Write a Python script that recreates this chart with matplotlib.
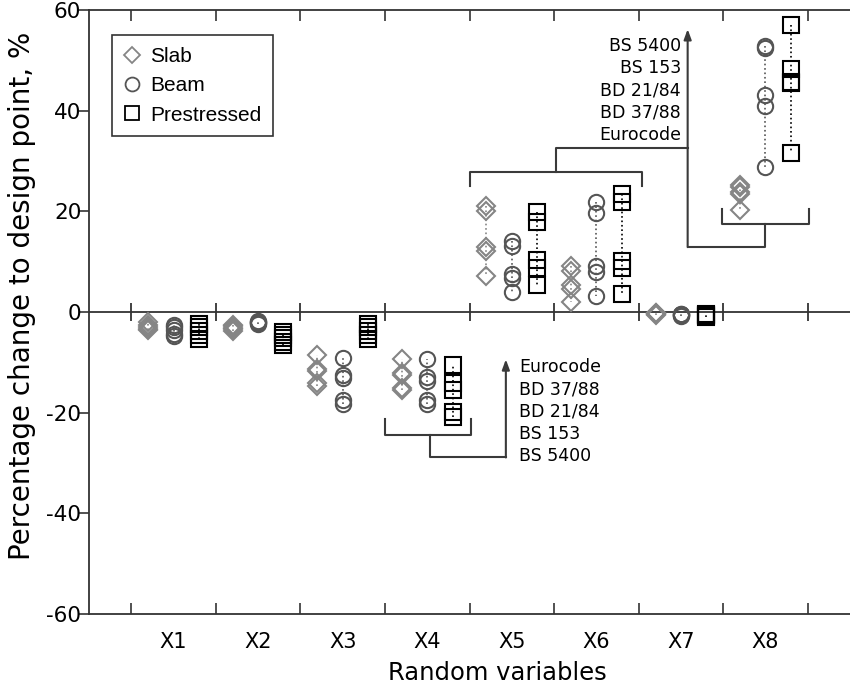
import numpy as np
import matplotlib
matplotlib.use("Agg")
import matplotlib.pyplot as plt
from matplotlib.lines import Line2D

plt.rcParams['axes.unicode_minus'] = False

variables = ['X1', 'X2', 'X3', 'X4', 'X5', 'X6', 'X7', 'X8']
codes = ['BS 5400', 'BS 153', 'BD 21/84', 'BD 37/88', 'Eurocode']

# one row per random variable, columns follow `codes`
slab = [[-3.6, -3.3, -3.0, -2.5, -2.0],
        [-3.7, -3.4, -3.1, -2.8, -2.6],
        [-14.7, -14.2, -11.7, -11.3, -8.6],
        [-15.5, -15.0, -12.6, -12.2, -9.3],
        [21.0, 20.0, 13.0, 12.2, 7.2],
        [9.2, 8.2, 5.4, 4.6, 2.0],
        [-0.5, -0.4, -0.3, -0.2, -0.2],
        [25.3, 24.8, 23.8, 23.5, 20.3]]
beam = [[-4.7, -4.3, -3.6, -3.0, -2.5],
        [-2.4, -2.2, -2.0, -1.9, -1.8],
        [-18.3, -17.5, -13.2, -12.6, -9.2],
        [-18.2, -17.5, -13.8, -13.0, -9.4],
        [14.2, 13.2, 7.5, 6.8, 3.9],
        [21.8, 19.6, 9.2, 7.9, 3.2],
        [-0.7, -0.6, -0.5, -0.4, -0.3],
        [52.8, 52.4, 43.1, 41.0, 28.8]]
prestressed = [[-5.3, -4.6, -3.8, -3.0, -2.3],
               [-6.6, -5.9, -5.2, -4.5, -3.9],
               [-5.3, -4.6, -3.8, -3.0, -2.3],
               [-20.8, -19.8, -15.5, -14.2, -10.5],
               [19.8, 17.8, 10.3, 8.8, 5.4],
               [23.5, 21.8, 10.2, 8.8, 3.6],
               [-0.9, -0.8, -0.6, -0.5, -0.3],
               [57.1, 48.2, 45.6, 45.4, 31.6]]

series = [('Slab', slab, 'D', '#858585', 9.5, -0.3),
          ('Beam', beam, 'o', '#555555', 11, 0.0),
          ('Prestressed', prestressed, 's', '#000000', 11, 0.3)]

fig = plt.figure(figsize=(8.5, 6.93), dpi=100)
ax = fig.add_axes([89/850, 79/693, 761/850, 604/693])

pos = np.arange(1, len(variables) + 1)
for name, data, mk, col, ms, off in series:
    for i, vals in enumerate(data):
        ax.plot([pos[i] + off] * len(vals), vals, ls=':', lw=1.2, color=col,
                marker=mk, ms=ms, mfc='none', mec=col, mew=1.5)

ax.set_xlim(0, 9)
ax.set_ylim(-60, 60)

# zero line with crossing ticks
bounds = np.arange(0.5, 9, 1)
ax.axhline(0, color='#333333', lw=1.3, zorder=0)
ax.plot(bounds, np.zeros(len(bounds)), ls='none', marker='|', ms=13,
        mew=1.3, color='#333333', zorder=0)

ax.set_xticks(bounds)
ax.set_xticklabels([])
ax.set_xticks(pos, minor=True)
ax.set_xticklabels(variables, minor=True, fontsize=15)
ax.tick_params(axis='x', which='major', direction='in', length=8, width=1.2,
               top=True, color='#333333')
ax.tick_params(axis='x', which='minor', length=0, pad=13)
ax.set_yticks(np.arange(-60, 61, 20))
ax.tick_params(axis='y', direction='out', length=7, width=1.2, labelsize=15.5,
               pad=-1.5, color='#333333')
ax.spines['right'].set_visible(False)
for s in ['left', 'top', 'bottom']:
    ax.spines[s].set_linewidth(1.3)
    ax.spines[s].set_color('#333333')

ax.set_xlabel('Random variables', fontsize=17.5)
ax.xaxis.set_label_coords(0.536, -0.077)
ax.set_ylabel('Percentage change to design point, %', fontsize=20)
ax.yaxis.set_label_coords(-0.069, 0.526)

# brackets and arrows
lc = '#3a3a3a'
ax.plot([4.5, 4.5, 6.54, 6.54], [25.1, 27.8, 27.8, 25.1], color=lc, lw=1.5)
ax.plot([5.52, 5.52, 7.08], [27.8, 32.6, 32.6], color=lc, lw=1.5)
ax.plot([7.49, 7.49, 8.51, 8.51], [20.5, 17.4, 17.4, 20.5], color=lc, lw=1.5)
ax.plot([8.0, 8.0, 7.08], [17.4, 12.9, 12.9], color=lc, lw=1.5)
ax.annotate('', xy=(7.08, 56.2), xytext=(7.08, 12.9),
            arrowprops=dict(arrowstyle='-|>,head_length=0.6,head_width=0.22',
                            color=lc, lw=1.5, shrinkA=0, shrinkB=0))
ax.text(7.0, 44.0, '\n'.join(codes), ha='right', va='center',
        multialignment='right', fontsize=12.5, linespacing=1.3)

ax.plot([3.5, 3.5, 4.52, 4.52], [-21.3, -24.5, -24.5, -21.3], color=lc, lw=1.5)
ax.plot([4.03, 4.03, 4.93], [-24.5, -28.9, -28.9], color=lc, lw=1.5)
ax.annotate('', xy=(4.93, -9.4), xytext=(4.93, -28.9),
            arrowprops=dict(arrowstyle='-|>,head_length=0.6,head_width=0.22',
                            color=lc, lw=1.5, shrinkA=0, shrinkB=0))
ax.text(5.09, -19.8, '\n'.join(codes[::-1]), ha='left', va='center',
        fontsize=12.5, linespacing=1.3)

handles = [Line2D([], [], ls='none', marker=mk, ms=ms - 1, mfc='none', mec=col,
                  mew=1.3, label=name)
           for name, data, mk, col, ms, off in series]
leg = ax.legend(handles=handles, loc='upper left', bbox_to_anchor=(0.03, 0.958),
                fancybox=False, edgecolor='#333333', framealpha=1,
                prop={'family': 'Liberation Sans', 'size': 15},
                handlelength=0.8, handletextpad=0.5, labelspacing=0.5,
                borderpad=0.55, borderaxespad=0)
leg.get_frame().set_linewidth(1.2)

fig.savefig('out.png', dpi=100)
